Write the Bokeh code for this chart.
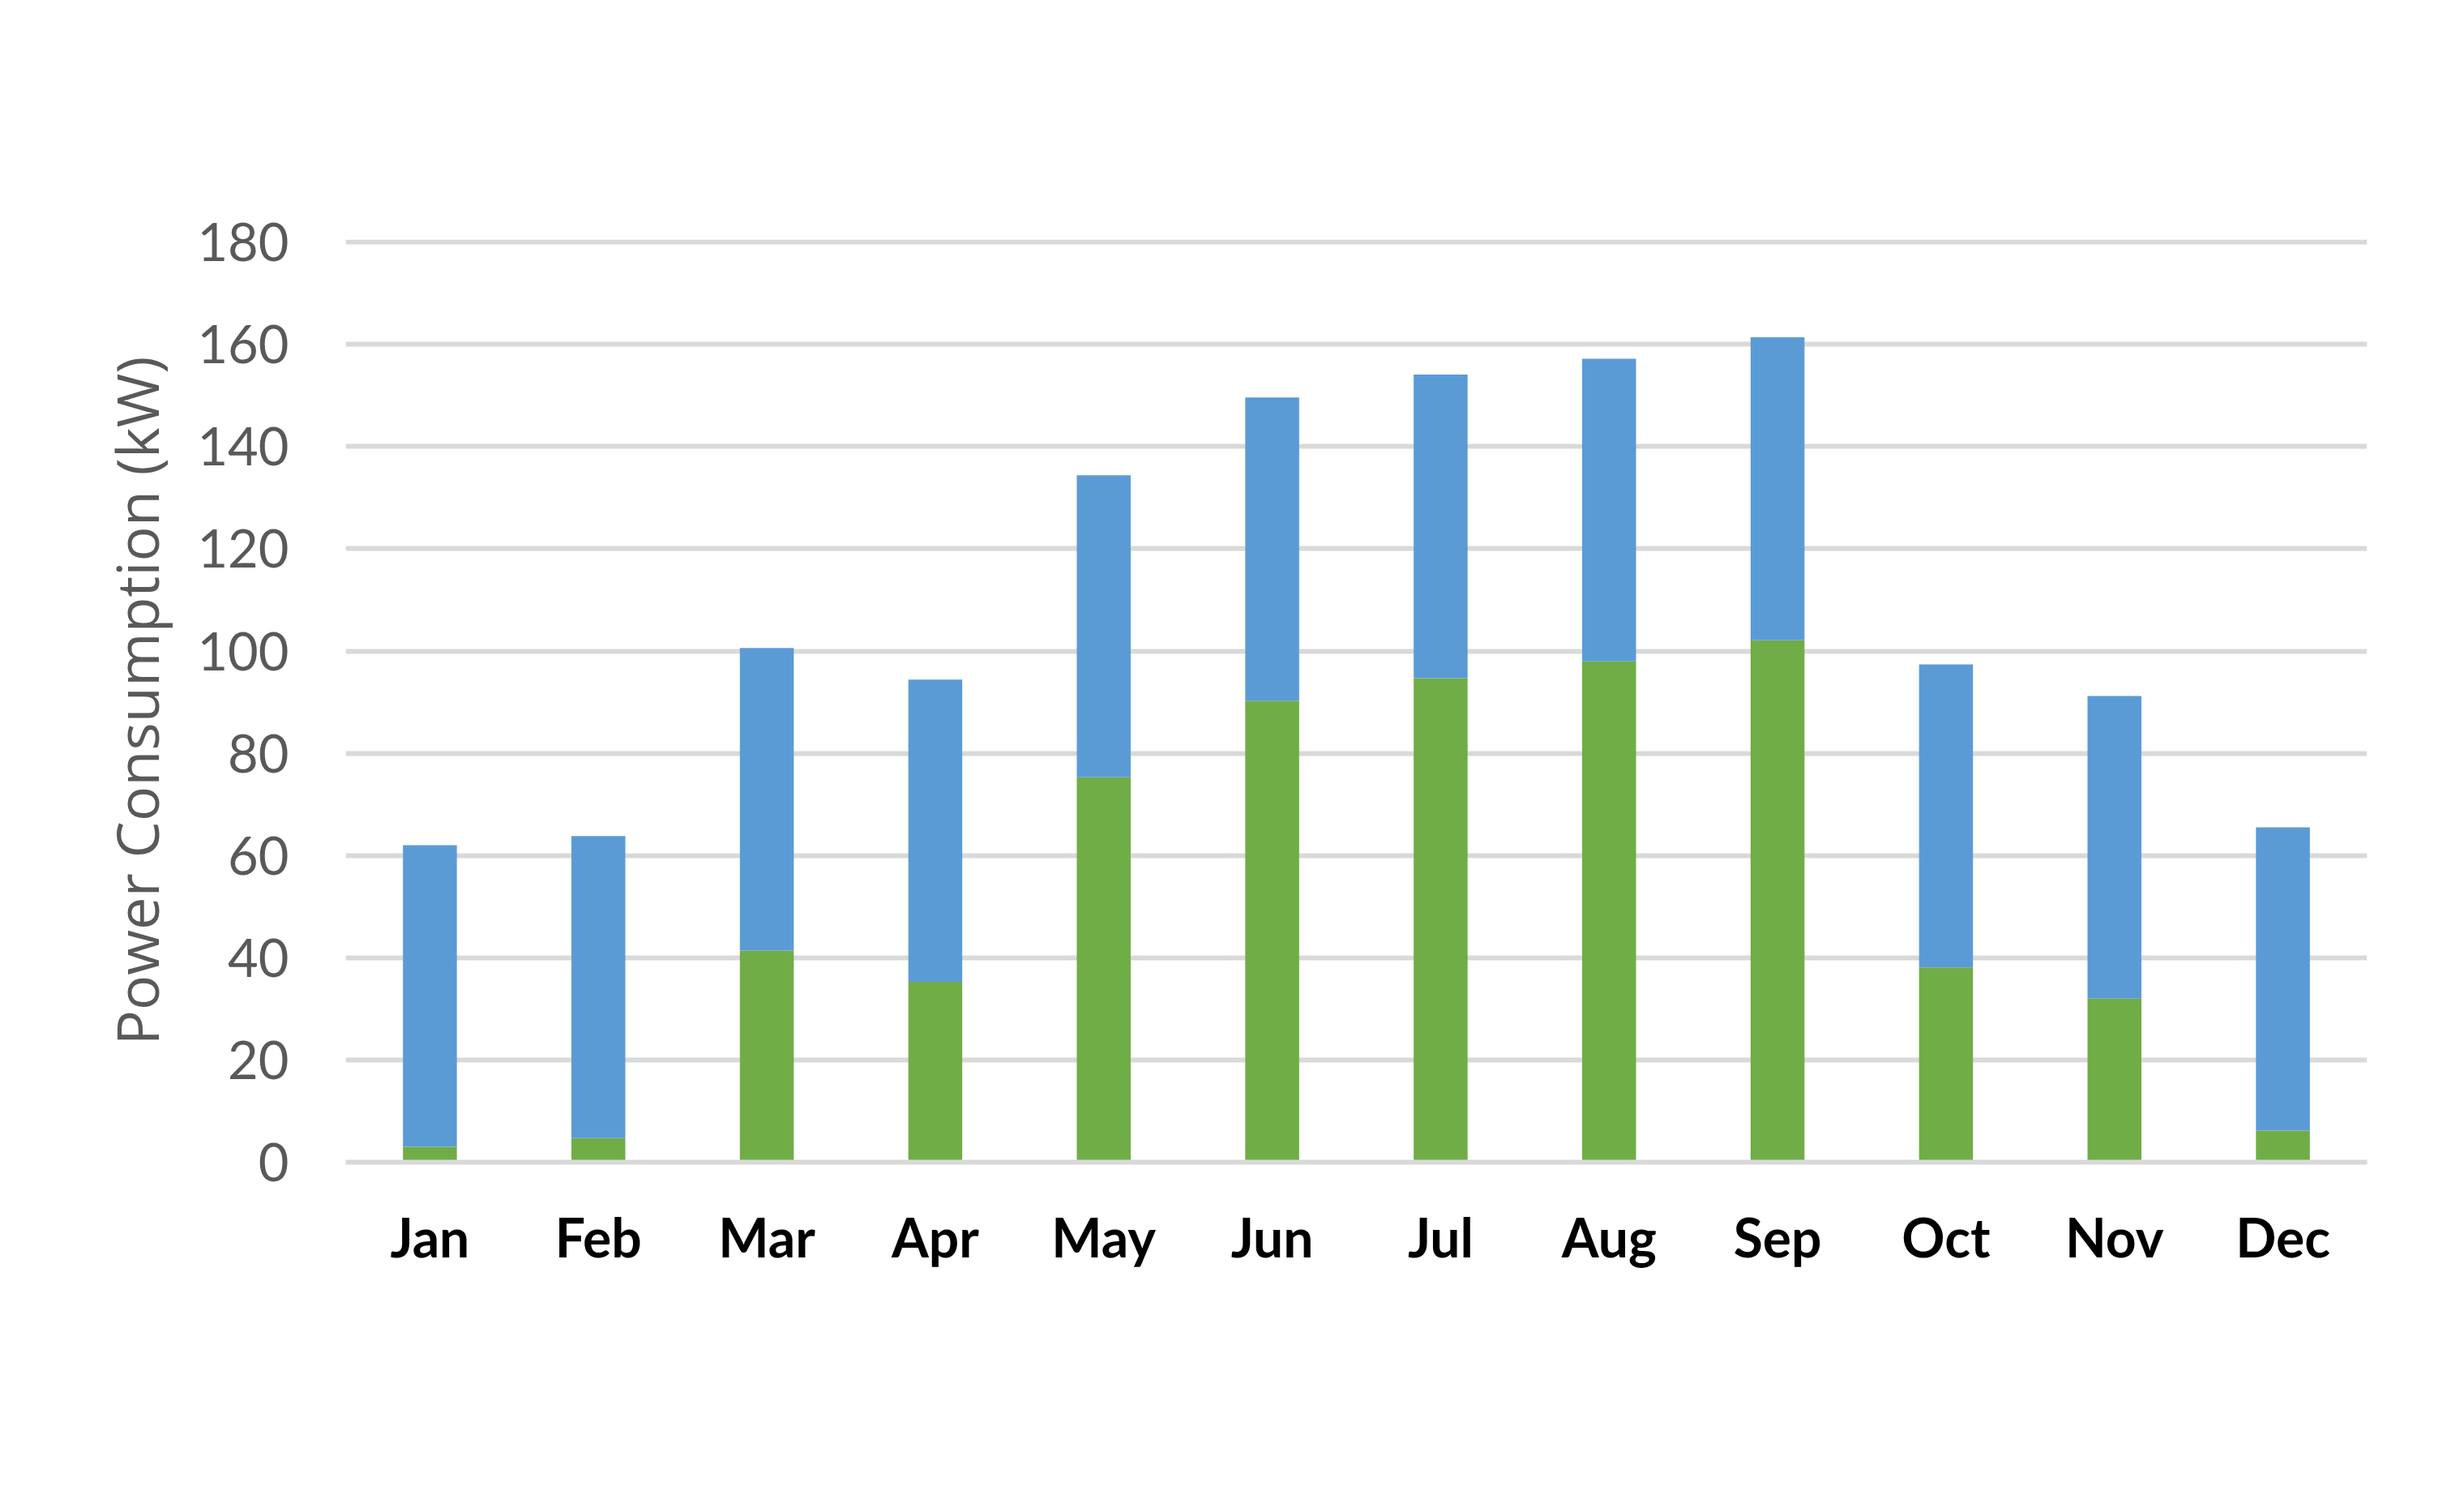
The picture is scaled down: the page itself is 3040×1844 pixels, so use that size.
from bokeh.plotting import figure
from bokeh.models import (FactorRange, Range1d, SingleIntervalTicker, ColumnDataSource,
                          BoxAnnotation, Label)
from bokeh.embed import file_html
from bokeh.resources import INLINE

months = ["Jan", "Feb", "Mar", "Apr", "May", "Jun", "Jul", "Aug", "Sep", "Oct", "Nov", "Dec"]
space_cool = [3.0, 4.7, 41.4, 35.3, 75.3, 90.3, 94.7, 98.0, 102.1, 38.1, 32.0, 6.2]
area_lights = [59.0, 59.1, 59.2, 59.1, 59.1, 59.3, 59.4, 59.2, 59.3, 59.3, 59.2, 59.3]
series_names = ["Space Cool (Conventional)", "Area Lights (Conventional)"]
series_colors = ["#70AD47", "#5B9BD5"]
title_text = "Power Consumption Trends before Retrofitting"
y_label = "Power Consumption (kW)"
y_ticks_interval = 20
y_max = 180

source = ColumnDataSource(dict(month=months, cool=space_cool, lights=area_lights))

p = figure(
    width=3024, height=1828, title=None,
    x_range=FactorRange(factors=months, range_padding=0),
    y_range=Range1d(0, y_max + 0.5),
    output_backend="svg", toolbar_location=None,
    min_border_left=426, min_border_right=104, min_border_top=295, min_border_bottom=395,
)
p.outline_line_color = None

renderers = p.vbar_stack(["cool", "lights"], x="month", width=0.32, source=source,
                         color=series_colors, line_color=None,
                         legend_label=series_names)

p.xgrid.grid_line_color = None
p.ygrid.grid_line_color = "#d9d9d9"
p.ygrid.grid_line_width = 6

p.yaxis.ticker = SingleIntervalTicker(interval=y_ticks_interval)
p.yaxis.axis_line_color = None
p.yaxis.major_tick_line_color = None
p.yaxis.minor_tick_line_color = None
p.yaxis.major_tick_out = 0
p.yaxis.major_label_standoff = 66
p.yaxis.major_label_text_font = "Lato"
p.yaxis.major_label_text_font_size = "65px"
p.yaxis.major_label_text_color = "#595959"
p.yaxis.axis_label = y_label
p.yaxis.axis_label_text_font = "Open Sans"
p.yaxis.axis_label_text_font_style = "normal"
p.yaxis.axis_label_text_font_size = "72px"
p.yaxis.axis_label_text_color = "#595959"
p.yaxis.axis_label_standoff = 23

xax = p.below[0]
xax.axis_line_color = "#d9d9d9"
xax.axis_line_width = 6
xax.major_tick_line_color = None
xax.minor_tick_line_color = None
xax.major_tick_out = 0
xax.major_label_standoff = 52
xax.major_label_text_font = "Lato"
xax.major_label_text_font_style = "bold"
xax.major_label_text_font_size = "66px"
xax.major_label_text_color = "black"

lg = p.legend[0]
lg.orientation = "horizontal"
lg.location = (169, -305)
lg.glyph_width = 43
lg.glyph_height = 43
lg.label_standoff = 17
lg.spacing = 170
lg.padding = 0
lg.margin = 0
lg.border_line_color = None
lg.background_fill_alpha = 0
lg.label_text_font = "Lato"
lg.label_text_font_size = "66px"
lg.label_text_color = "#595959"

# Light grey frame around the whole chart (offsets from the plotting frame, in px)
border = BoxAnnotation(left=-414.5, right=2585.5, top=1414.5, bottom=-385.5,
                       left_units="screen", right_units="screen",
                       top_units="screen", bottom_units="screen",
                       fill_alpha=0, line_color="#d9d9d9", line_width=7)
p.add_layout(border)

# Chart title, centred on the chart box (added last)
title_label = Label(x=1086, y=1259, x_units="screen", y_units="screen",
                    text=title_text, text_align="center", text_baseline="alphabetic",
                    text_font="Liberation Serif", text_font_style="bold",
                    text_font_size="99px", text_color="black")
p.add_layout(title_label)

open("out.html", "w").write(file_html(p, INLINE))
